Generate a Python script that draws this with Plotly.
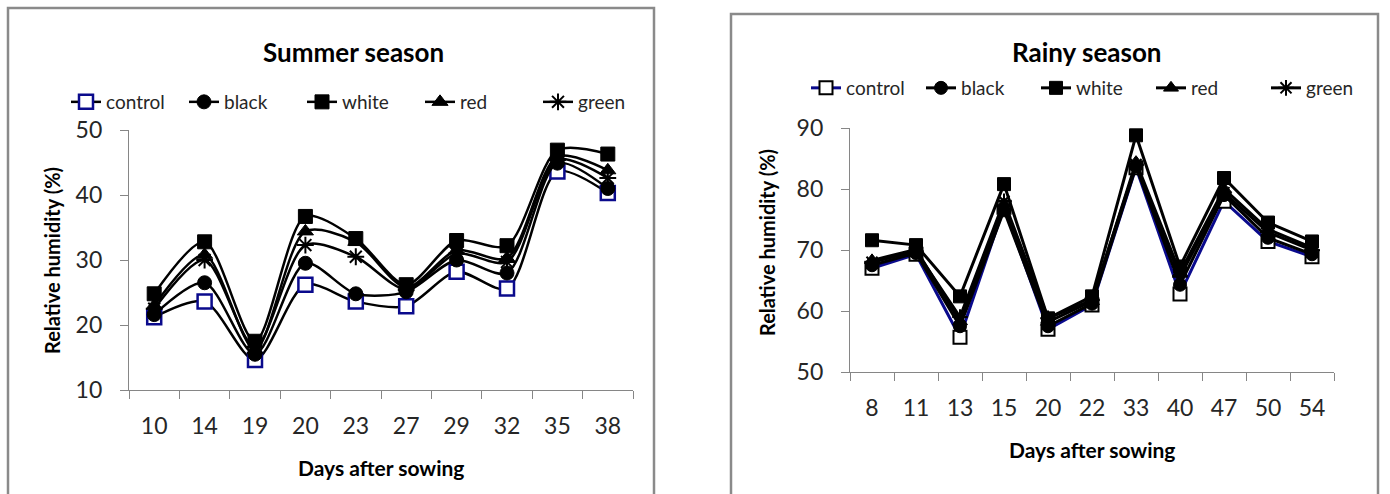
import plotly.graph_objects as go

W, H = 1390, 494

# ---------------- data ----------------
summer_days = ["10", "14", "19", "20", "23", "27", "29", "32", "35", "38"]
summer_control = [21.2, 23.6, 14.6, 26.2, 23.6, 22.9, 28.2, 25.6, 43.6, 40.3]
summer_black   = [21.6, 26.5, 15.5, 29.5, 24.8, 25.1, 30.0, 28.0, 44.9, 41.0]
summer_white   = [24.8, 32.8, 17.5, 36.7, 33.3, 26.2, 33.0, 32.2, 46.9, 46.3]
summer_red     = [23.0, 30.8, 16.2, 34.4, 32.8, 25.8, 31.5, 30.3, 45.9, 43.8]
summer_green   = [22.5, 30.0, 16.6, 32.3, 30.5, 25.5, 31.0, 29.7, 45.4, 42.6]

rainy_days = ["8", "11", "13", "15", "20", "22", "33", "40", "47", "50", "54"]
rainy_control = [67.0, 69.3, 55.7, 77.0, 57.0, 61.0, 83.5, 62.8, 78.0, 71.4, 68.9]
rainy_black   = [67.5, 69.5, 57.5, 76.5, 57.5, 61.2, 83.7, 64.3, 79.0, 72.0, 69.3]
rainy_white   = [71.6, 70.8, 62.4, 80.8, 58.8, 62.4, 88.8, 67.3, 81.8, 74.5, 71.4]
rainy_red     = [68.3, 70.1, 58.3, 77.6, 58.2, 61.6, 84.4, 66.3, 80.0, 73.4, 70.4]
rainy_green   = [68.0, 69.8, 59.0, 78.0, 58.8, 61.8, 84.0, 65.6, 79.4, 72.9, 70.0]

series_names = ["control", "black", "white", "red", "green"]

NAVY = "#0A0A8C"
AXIS = "#868686"
TXT = "#262626"
FONT = "Lato, 'Open Sans', sans-serif"

def styles(panel):
    if panel == "summer":
        return [
            dict(line=dict(color="black", width=2.5),
                 marker=dict(symbol="square", size=14, color="white", line=dict(color=NAVY, width=2.5))),
            dict(line=dict(color="black", width=2.5),
                 marker=dict(symbol="circle", size=14, color="black", line=dict(color="black", width=1))),
            dict(line=dict(color="black", width=2.5),
                 marker=dict(symbol="square", size=14, color="black", line=dict(color="black", width=1))),
            dict(line=dict(color="black", width=2.5),
                 marker=dict(symbol="triangle-up", size=14, color="black", line=dict(color="black", width=1))),
            dict(line=dict(color="black", width=2.5),
                 marker=dict(symbol="asterisk-open", size=14, color="black", line=dict(color="black", width=2))),
        ]
    return [
        dict(line=dict(color=NAVY, width=3),
             marker=dict(symbol="square", size=13, color="white", line=dict(color="black", width=2))),
        dict(line=dict(color="black", width=3),
             marker=dict(symbol="circle", size=13, color="black", line=dict(color="black", width=1))),
        dict(line=dict(color="black", width=3),
             marker=dict(symbol="square", size=13, color="black", line=dict(color="black", width=1))),
        dict(line=dict(color="black", width=3),
             marker=dict(symbol="triangle-up", size=13, color="black", line=dict(color="black", width=1))),
        dict(line=dict(color="black", width=3),
             marker=dict(symbol="asterisk-open", size=13, color="black", line=dict(color="black", width=2))),
    ]

fig = go.Figure()

summer_vals = [summer_control, summer_black, summer_white, summer_red, summer_green]
for name, vals, st in zip(series_names, summer_vals, styles("summer")):
    fig.add_trace(go.Scatter(
        x=summer_days, y=vals, name=name, mode="lines+markers",
        line=dict(shape="spline", smoothing=0.8, **st["line"]), marker=st["marker"],
        xaxis="x", yaxis="y", legend="legend"))

rainy_vals = [rainy_control, rainy_black, rainy_white, rainy_red, rainy_green]
for name, vals, st in zip(series_names, rainy_vals, styles("rainy")):
    fig.add_trace(go.Scatter(
        x=rainy_days, y=vals, name=name, mode="lines+markers",
        line=st["line"], marker=st["marker"],
        xaxis="x2", yaxis="y2", legend="legend2"))

def xaxis(domain, anchor):
    return dict(domain=domain, anchor=anchor, type="category", automargin=False,
                showline=True, linecolor=AXIS, linewidth=1.3,
                ticks="outside", tickson="boundaries", ticklen=8, tickcolor=AXIS, tickwidth=1.3,
                showgrid=False, zeroline=False,
                tickfont=dict(family=FONT, size=23, color=TXT), ticklabelstandoff=15)

def yaxis(domain, anchor, rng, dt):
    return dict(domain=domain, anchor=anchor, range=rng, dtick=dt, automargin=False,
                showline=True, linecolor=AXIS, linewidth=1.3,
                ticks="outside", ticklen=8, tickcolor=AXIS, tickwidth=1.3,
                showgrid=False, zeroline=False,
                tickfont=dict(family=FONT, size=23, color=TXT), ticklabelstandoff=13)

lx = [129 / W, 633 / W]
ly = [1 - 390 / H, 1 - 130 / H]
rx = [850 / W, 1334 / W]
ry = [1 - 372 / H, 1 - 128 / H]

LEG_FONT = dict(family=FONT, size=19, color=TXT)

fig.update_layout(
    template="none",
    width=W, height=H,
    margin=dict(l=0, r=0, t=0, b=0, pad=0, autoexpand=False),
    paper_bgcolor="white", plot_bgcolor="white",
    font=dict(family=FONT, color=TXT),
    showlegend=True,
    xaxis=dict(**xaxis(lx, "y"), range=[-0.5, 9.5]),
    yaxis=yaxis(ly, "x", [10, 50], 10),
    xaxis2=dict(**xaxis(rx, "y2"), range=[-0.5, 10.5]),
    yaxis2=yaxis(ry, "x2", [50, 90], 10),
    legend=dict(orientation="h", x=66 / W, y=1 - 102 / H, xanchor="left", yanchor="middle",
                font=LEG_FONT, bgcolor="rgba(0,0,0,0)", borderwidth=0,
                traceorder="normal", itemwidth=30, tracegroupgap=0,
                entrywidth=73, entrywidthmode="pixels"),
    legend2=dict(orientation="h", x=806 / W, y=1 - 88 / H, xanchor="left", yanchor="middle",
                 font=LEG_FONT, bgcolor="rgba(0,0,0,0)", borderwidth=0,
                 traceorder="normal", itemwidth=30, tracegroupgap=0,
                 entrywidth=70, entrywidthmode="pixels"),
    shapes=[
        dict(type="rect", xref="paper", yref="paper", x0=8 / W, x1=654 / W, y0=-0.05, y1=1 - 8 / H,
             line=dict(color="#8a8a8a", width=2.5), fillcolor="rgba(0,0,0,0)", layer="below"),
        dict(type="rect", xref="paper", yref="paper", x0=731 / W, x1=1378 / W, y0=-0.05, y1=1 - 14 / H,
             line=dict(color="#8a8a8a", width=2.5), fillcolor="rgba(0,0,0,0)", layer="below"),
    ],
    annotations=[
        dict(text="<b>Summer season</b>", xref="paper", yref="paper", x=353 / W, y=1 - 52 / H,
             xanchor="center", yanchor="middle",
             showarrow=False, font=dict(family=FONT, size=26, color="black")),
        dict(text="<b>Rainy season</b>", xref="paper", yref="paper", x=1087 / W, y=1 - 52 / H,
             xanchor="center", yanchor="middle",
             showarrow=False, font=dict(family=FONT, size=26, color="black")),
        dict(text="<b>Relative humidity (%)</b>", xref="paper", yref="paper", x=52 / W, y=1 - 261 / H,
             xanchor="center", yanchor="middle",
             textangle=-90, showarrow=False, font=dict(family=FONT, size=20, color="black")),
        dict(text="<b>Relative humidity (%)</b>", xref="paper", yref="paper", x=767 / W, y=1 - 243 / H,
             xanchor="center", yanchor="middle",
             textangle=-90, showarrow=False, font=dict(family=FONT, size=20, color="black")),
        dict(text="<b>Days after sowing</b>", xref="paper", yref="paper", x=381 / W, y=1 - 467 / H,
             xanchor="center", yanchor="middle",
             showarrow=False, font=dict(family=FONT, size=21, color="black")),
        dict(text="<b>Days after sowing</b>", xref="paper", yref="paper", x=1092 / W, y=1 - 449 / H,
             xanchor="center", yanchor="middle",
             showarrow=False, font=dict(family=FONT, size=21, color="black")),
    ],
)

fig.write_html("out.html")
